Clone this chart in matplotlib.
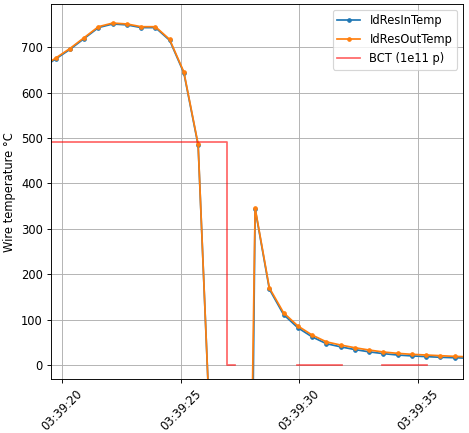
import numpy as np
import pandas as pd
import matplotlib
matplotlib.use('Agg')
import matplotlib.pyplot as plt
import matplotlib.dates as mdates

base = pd.Timestamp('2018-01-01 03:39:00')

# temperature samples (seconds after 03:39:00)
temp_sec = [19.135, 19.735, 20.335, 20.935, 21.535, 22.135, 22.735, 23.335,
            23.935, 24.535, 25.135, 25.735, 26.335, 26.935, 27.535, 28.135,
            28.735, 29.335, 29.935, 30.535, 31.135, 31.735, 32.335, 32.935,
            33.535, 34.135, 34.735, 35.335, 35.935, 36.535, 37.135]
res_out = [655, 676, 697, 721, 745, 753, 751, 745, 745, 717, 645, 486,
           -270, -1800, -1800, 346, 170, 115, 86, 66, 51, 44, 38, 33,
           28.6, 25.7, 23.5, 22, 20.5, 19, 18]
res_in = [653, 674, 695, 719, 743, 751, 749, 743, 743, 715, 643, 484,
          -270, -1800, -2600, 344, 167, 111, 82, 62, 47, 40, 34, 29,
          25, 22, 20, 18.5, 17, 16, 15]

# beam current, NaN where no signal
bct_sec = [19.0, 26.95, 27.30, 29.89, 31.78, 33.49, 35.36]
bct_val = [490, 0, np.nan, 0, np.nan, 0, np.nan]

t_temp = [base + pd.Timedelta(seconds=s) for s in temp_sec]
t_bct = [base + pd.Timedelta(seconds=s) for s in bct_sec]

DPI = 83
fig = plt.figure(figsize=(469 / DPI, 433 / DPI), dpi=DPI)
ax = fig.add_axes([51 / 469, 1 - 379.3 / 433, (462.7 - 51) / 469, (379.3 - 4) / 433])

ax.plot(t_temp, res_in, '.-', label='IdResInTemp')
ax.plot(t_temp, res_out, '.-', label='IdResOutTemp')
ax.plot(t_bct, bct_val, color='red', alpha=0.6, drawstyle='steps-post', label='BCT (1e11 p)')

ax.set_xlim(base + pd.Timedelta(seconds=19.537), base + pd.Timedelta(seconds=36.88))
ax.set_ylim(-31.5, 795)
ax.xaxis.set_major_locator(mdates.SecondLocator(bysecond=range(0, 60, 5)))
ax.xaxis.set_major_formatter(mdates.DateFormatter('%H:%M:%S'))
plt.setp(ax.get_xticklabels(), rotation=45)
ax.set_ylabel('Wire temperature °C')
ax.grid(True)
ax.legend(loc='upper right')

fig.savefig('out.png', dpi=DPI)
